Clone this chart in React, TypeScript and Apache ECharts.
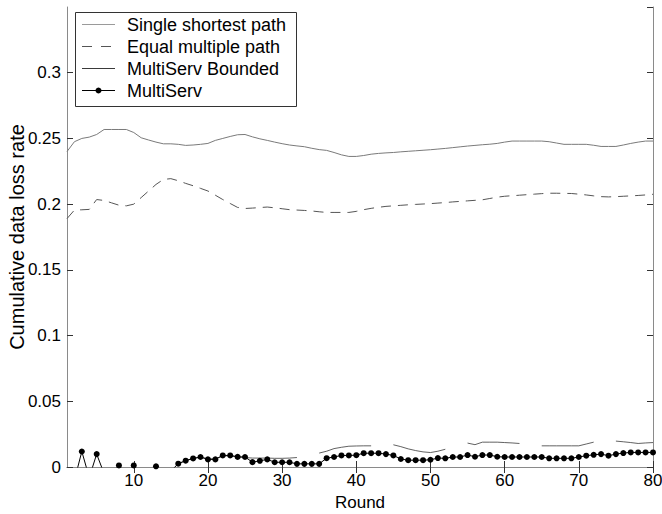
import React, { useEffect, useRef } from "react";
import * as echarts from "echarts";

// Round index 1..80
const rounds: number[] = Array.from({ length: 80 }, (_, i) => i + 1);

const singleShortest: number[] = [
  0.240, 0.2475, 0.2500, 0.2510, 0.2530, 0.2568, 0.2568, 0.2568, 0.2568, 0.2545,
  0.2505, 0.2488, 0.2472, 0.2459, 0.2459, 0.2455, 0.2447, 0.2450, 0.2455, 0.2462,
  0.2485, 0.2500, 0.2515, 0.2528, 0.2530, 0.2512, 0.2497, 0.2485, 0.2472, 0.2460,
  0.2450, 0.2443, 0.2437, 0.2425, 0.2415, 0.2409, 0.2393, 0.2375, 0.2363, 0.2363,
  0.2370, 0.2380, 0.2386, 0.2390, 0.2393, 0.2398, 0.2402, 0.2406, 0.2410, 0.2414,
  0.2419, 0.2424, 0.2430, 0.2436, 0.2442, 0.2447, 0.2452, 0.2456, 0.2462, 0.2472,
  0.2480, 0.2480, 0.2480, 0.2480, 0.2480, 0.2475, 0.2465, 0.2455, 0.2455, 0.2455,
  0.2455, 0.2448, 0.2439, 0.2439, 0.2439, 0.2450, 0.2462, 0.2472, 0.2480, 0.2480,
];

const equalMultiple: number[] = [
  0.1890, 0.1955, 0.1957, 0.1960, 0.2035, 0.2028, 0.2010, 0.1992, 0.1987, 0.2000,
  0.2050, 0.2100, 0.2150, 0.2188, 0.2194, 0.2178, 0.2158, 0.2140, 0.2120, 0.2100,
  0.2068, 0.2035, 0.2005, 0.1975, 0.1967, 0.1970, 0.1974, 0.1978, 0.1972, 0.1965,
  0.1958, 0.1955, 0.1952, 0.1948, 0.1942, 0.1937, 0.1937, 0.1937, 0.1937, 0.1945,
  0.1958, 0.1968, 0.1976, 0.1983, 0.1987, 0.1991, 0.1995, 0.1998, 0.2001, 0.2004,
  0.2008, 0.2012, 0.2017, 0.2021, 0.2025, 0.2029, 0.2033, 0.2043, 0.2053, 0.2060,
  0.2064, 0.2068, 0.2072, 0.2076, 0.2080, 0.2083, 0.2083, 0.2082, 0.2081, 0.2076,
  0.2070, 0.2063, 0.2057, 0.2055, 0.2057, 0.2060, 0.2063, 0.2066, 0.2070, 0.2075,
];

const multiServBounded: (number | null)[] = [
  null, null, null, null, null, null, null, null, null, null,
  null, null, null, null, null, 0.0025, 0.0050, 0.0065, 0.0075, 0.0062,
  0.0062, 0.0085, 0.0085, 0.0078, 0.0072, 0.0068, 0.0068, 0.0068, 0.0066, 0.0066,
  0.0068, 0.0072, null, null, 0.0106, 0.0120, 0.0140, 0.0150, 0.0158, 0.0160,
  0.0161, 0.0161, null, null, 0.0169, 0.0155, 0.0138, 0.0125, 0.0115, 0.0110,
  0.0120, 0.0135, null, null, 0.0182, 0.0170, 0.0189, 0.0189, 0.0189, 0.0186,
  0.0183, 0.0179, null, null, 0.0161, 0.0161, 0.0161, 0.0161, 0.0161, 0.0161,
  0.0175, 0.0189, null, null, 0.0197, 0.0192, 0.0186, 0.0179, 0.0183, 0.0186,
];

const multiServ: number[] = [
  -0.010, -0.010, 0.0118, -0.008, 0.0098, -0.005, -0.005, 0.0012, -0.005, 0.0012,
  -0.005, -0.005, 0.0005, -0.005, -0.003, 0.0025, 0.0048, 0.0065, 0.0076, 0.0058,
  0.0058, 0.0088, 0.0088, 0.0077, 0.0076, 0.0037, 0.0047, 0.0058, 0.0036, 0.0036,
  0.0036, 0.0024, 0.0024, 0.0024, 0.0024, 0.0067, 0.0076, 0.0088, 0.0088, 0.0090,
  0.0105, 0.0105, 0.0105, 0.0098, 0.0088, 0.0061, 0.0052, 0.0052, 0.0052, 0.0055,
  0.0068, 0.0066, 0.0076, 0.0076, 0.0091, 0.0078, 0.0091, 0.0091, 0.0078, 0.0076,
  0.0076, 0.0076, 0.0076, 0.0076, 0.0076, 0.0066, 0.0066, 0.0066, 0.0066, 0.0076,
  0.0086, 0.0093, 0.0098, 0.0086, 0.0098, 0.0106, 0.0111, 0.0111, 0.0111, 0.0111,
];

const xTicks: number[] = [10, 20, 30, 40, 50, 60, 70, 80];
const seriesNames: string[] = [
  "Single shortest path",
  "Equal multiple path",
  "MultiServ Bounded",
  "MultiServ",
];

const FONT = "'Liberation Sans', Arial, sans-serif";

const LINE_COLORS = ["#7a7a7a", "#555555", "#3a3a3a", "#000000"];

const pairs = (vals: (number | null)[]) =>
  rounds.map((r, i) => [r, vals[i] === null ? null : vals[i]]);

// Boxed legend drawn with graphic elements: line sample, optional dot, label
function legendGraphic() {
  const left = 75;
  const top = 12;
  const rowGap = 22;
  const firstRow = 24;
  const children: any[] = [
    {
      type: "rect",
      shape: { x: left + 0.5, y: top + 0.5, width: 221, height: 94 },
      style: { fill: "#fff", stroke: "#333", lineWidth: 1 },
    },
  ];
  seriesNames.forEach((name, i) => {
    const y = firstRow + i * rowGap + 0.5;
    children.push({
      type: "line",
      shape: { x1: 82, y1: y, x2: 115, y2: y },
      style: {
        stroke: i === 0 ? "#9a9a9a" : LINE_COLORS[i],
        lineWidth: 1,
        lineDash: i === 1 ? [10, 9] : null,
      },
    });
    if (i === 3) {
      children.push({
        type: "circle",
        shape: { cx: 98.5, cy: y, r: 3 },
        style: { fill: "#000" },
      });
    }
    children.push({
      type: "text",
      x: 127,
      y,
      style: {
        text: name,
        fontFamily: FONT,
        fontSize: 18,
        fill: "#000",
        verticalAlign: "middle",
        align: "left",
      },
    });
  });
  return { type: "group", z: 100, children };
}

export default function App() {
  const ref = useRef<HTMLDivElement>(null);

  useEffect(() => {
    if (!ref.current) return;
    const chart = echarts.init(ref.current, undefined, { renderer: "svg" });

    const axisLine = { show: true, lineStyle: { color: "#8a8a8a", width: 1 } };
    const tickStyle = { color: "#333", width: 1 };
    const labelStyle = { fontFamily: FONT, fontSize: 17, color: "#000" };

    chart.setOption({
      animation: false,
      backgroundColor: "#fff",
      textStyle: { fontFamily: FONT },
      grid: {
        left: 67,
        right: 9,
        top: 7,
        bottom: 47,
        containLabel: false,
        outerBoundsMode: "none",
      },
      graphic: [legendGraphic()],
      xAxis: [
        {
          type: "value",
          min: 1,
          max: 80,
          position: "bottom",
          name: "Round",
          nameLocation: "middle",
          nameGap: 27,
          nameMoveOverlap: false,
          nameTextStyle: { fontFamily: FONT, fontSize: 17, color: "#000" },
          axisLine,
          axisTick: { show: true, inside: true, length: 6, lineStyle: tickStyle, customValues: xTicks },
          axisLabel: { ...labelStyle, margin: 5, customValues: xTicks },
          splitLine: { show: false },
        },
        {
          type: "value",
          min: 1,
          max: 80,
          position: "top",
          axisLine,
          axisTick: { show: true, inside: true, length: 6, lineStyle: tickStyle, customValues: xTicks },
          axisLabel: { show: false },
          splitLine: { show: false },
        },
      ],
      yAxis: [
        {
          type: "value",
          min: 0,
          max: 0.35,
          interval: 0.05,
          position: "left",
          name: "Cumulative data loss rate",
          nameLocation: "middle",
          nameGap: 40,
          nameMoveOverlap: false,
          nameTextStyle: { fontFamily: FONT, fontSize: 20, color: "#000" },
          axisLine,
          axisTick: { show: true, inside: true, length: 6, lineStyle: tickStyle },
          axisLabel: { ...labelStyle, margin: 6, showMaxLabel: false },
          splitLine: { show: false },
        },
        {
          type: "value",
          min: 0,
          max: 0.35,
          interval: 0.05,
          position: "right",
          axisLine,
          axisTick: { show: true, inside: true, length: 6, lineStyle: tickStyle },
          axisLabel: { show: false },
          splitLine: { show: false },
        },
      ],
      series: [
        {
          name: seriesNames[0],
          type: "line",
          data: pairs(singleShortest),
          symbol: "none",
          lineStyle: { color: LINE_COLORS[0], width: 1 },
        },
        {
          name: seriesNames[1],
          type: "line",
          data: pairs(equalMultiple),
          symbol: "none",
          lineStyle: { color: LINE_COLORS[1], width: 1, type: [10, 7] },
        },
        {
          name: seriesNames[2],
          type: "line",
          data: pairs(multiServBounded),
          symbol: "none",
          connectNulls: false,
          lineStyle: { color: LINE_COLORS[2], width: 0.8 },
        },
        {
          name: seriesNames[3],
          type: "line",
          data: pairs(multiServ),
          symbol: "circle",
          symbolSize: 6,
          z: 5,
          lineStyle: { color: LINE_COLORS[3], width: 1 },
          itemStyle: { color: LINE_COLORS[3] },
        },
      ],
    });

    return () => chart.dispose();
  }, []);

  return <div ref={ref} style={{ width: 662, height: 514, position: "absolute", left: 0, top: 0 }} />;
}
